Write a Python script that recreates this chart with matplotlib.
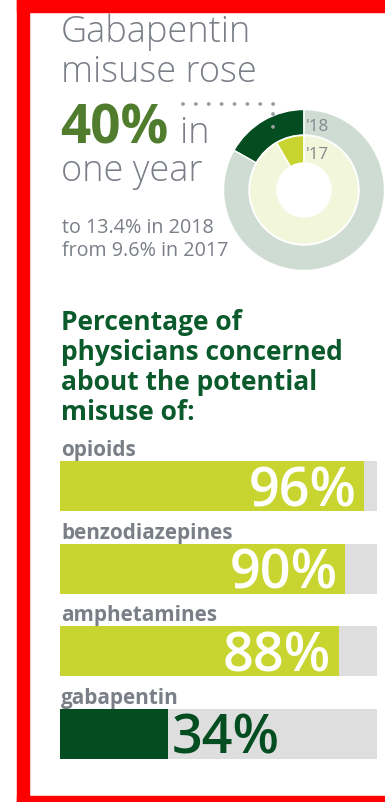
import matplotlib
matplotlib.use("Agg")
import matplotlib.pyplot as plt
from matplotlib.patches import Rectangle
from matplotlib.lines import Line2D

# ---- data ----
headline_lines = ["Gabapentin", "misuse rose"]
rise_pct = 40
pct_2018 = 13.4
pct_2017 = 9.6
# ring shares as drawn in the graphic (percent of the full circle)
ring_2018 = [16.8, 83.2]
ring_2017 = [8.4, 91.6]
ring_labels = ["'18", "'17"]

heading = ["Percentage of", "physicians concerned", "about the potential", "misuse of:"]
drugs = ["opioids", "benzodiazepines", "amphetamines", "gabapentin"]
concern = [96, 90, 88, 34]

# ---- style ----
W, H = 385, 803
DPI = 100
RED = "#ff0000"
GRAY_TXT = "#7a7f87"
OLIVE = "#4f7d2d"
DARK = "#034d21"
HEAD = "#0b5a2b"
LIME = "#c8d530"
BG_BAR = "#dedede"
RING_BG = "#cfdcd3"
RING_IN = "#f2f6da"
FONT = "Open Sans"

fig = plt.figure(figsize=(W / DPI, H / DPI), dpi=DPI)
fig.patch.set_facecolor("white")
renderer = fig.canvas.get_renderer()

def fx(x):
    return x / W

def fy(y):
    return 1 - y / H

def fit(s, width_px, weight="normal", family=FONT):
    t = fig.text(0, 0, s, fontsize=20, family=family, weight=weight)
    w = t.get_window_extent(renderer=renderer).width
    t.remove()
    return 20 * width_px / w

def ftext(x, y, s, size, **kw):
    return fig.text(fx(x), fy(y), s, fontsize=size, family=FONT, va="baseline", **kw)

# red frame (left, top, bottom)
for (x0, y0, w, h) in [(17, 0, 12, 803), (17, 0, 368, 13), (17, 797, 368, 6)]:
    fig.patches.append(Rectangle((fx(x0), fy(y0 + h)), w / W, h / H,
                                 transform=fig.transFigure, color=RED, zorder=5))

# headline
big = fit(headline_lines[0], 190, weight="light")
ftext(61, 42, headline_lines[0], big, weight="light", color=GRAY_TXT)
ftext(61, 82, headline_lines[1], big, weight="light", color=GRAY_TXT)
ftext(60, 143, f"{rise_pct}%", fit(f"{rise_pct}%", 108, weight="bold"),
      weight="bold", color=OLIVE)
ftext(180, 143, "in", big, weight="light", color=GRAY_TXT)
ftext(61, 181, "one year", big, weight="light", color=GRAY_TXT)
small = fit(f"to {pct_2018}% in 2018", 152)
ftext(62, 233, f"to {pct_2018}% in 2018", small, color=GRAY_TXT)
ftext(62, 256, f"from {pct_2017}% in 2017", small, color=GRAY_TXT)

# donut
cx, cy, R = 304, 191, 80.5
axd = fig.add_axes([fx(cx - R), fy(cy + R), 2 * R / W, 2 * R / H])
axd.axis("off")
axd.pie(ring_2018, radius=1.0, startangle=90, counterclock=True,
        colors=[DARK, RING_BG],
        wedgeprops=dict(width=25.5 / R, edgecolor="white", linewidth=1.0))
axd.pie(ring_2017, radius=54.5 / R, startangle=90, counterclock=True,
        colors=[LIME, RING_IN],
        wedgeprops=dict(width=27.5 / R, edgecolor="white", linewidth=1.0))
axd.set_xlim(-1, 1)
axd.set_ylim(-1, 1)
axd.set_aspect("equal")

lab = fit("'18", 23)
ftext(306, 131, ring_labels[0], lab, color="#84888e", zorder=6)
ftext(306, 159, ring_labels[1], lab, color="#84888e", zorder=6)

# dotted connector
dot_kw = dict(color="#9a9ea3", lw=2.8, linestyle=(0, (0.01, 3.3)),
              dash_capstyle="round", transform=fig.transFigure, zorder=6)
fig.lines.append(Line2D([fx(183), fx(277)], [fy(105), fy(105)], **dot_kw))
fig.lines.append(Line2D([fx(273), fx(273)], [fy(115), fy(137)], **dot_kw))

# heading
hs = fit(heading[1], 283, weight="bold")
for i, line in enumerate(heading):
    ftext(61, 330 + 30 * i, line, hs, weight="bold", color=HEAD)

# bars
axb = fig.add_axes([fx(60), fy(760), (377 - 60) / W, (760 - 462) / H])
n = len(drugs)
bh = 0.606
axb.set_xlim(0, 100)
axb.set_ylim(n - 1 + bh / 2, -bh / 2)
axb.axis("off")
ypos = list(range(n))
axb.barh(ypos, [100] * n, height=bh, color=BG_BAR, left=0)
fills = [LIME, LIME, LIME, DARK]
axb.barh(ypos, concern, height=bh, color=fills)
ls = fit(drugs[1], 172, weight="bold")
vs = fit("96%", 108, weight="semibold")
for i, (name, v) in enumerate(zip(drugs, concern)):
    axb.text(0.3, i - bh / 2 - 0.07, name, fontsize=ls, family=FONT,
             weight="bold", color=GRAY_TXT, va="baseline", ha="left")
    if v > 50:
        axb.text(v - 2.5, i + 0.23, f"{v}%", fontsize=vs, family=FONT,
                 weight="semibold", color="white", va="baseline", ha="right")
    else:
        axb.text(v + 1.2, i + 0.23, f"{v}%", fontsize=vs, family=FONT,
                 weight="semibold", color=DARK, va="baseline", ha="left")

fig.savefig("out.png", dpi=DPI, facecolor="white")
